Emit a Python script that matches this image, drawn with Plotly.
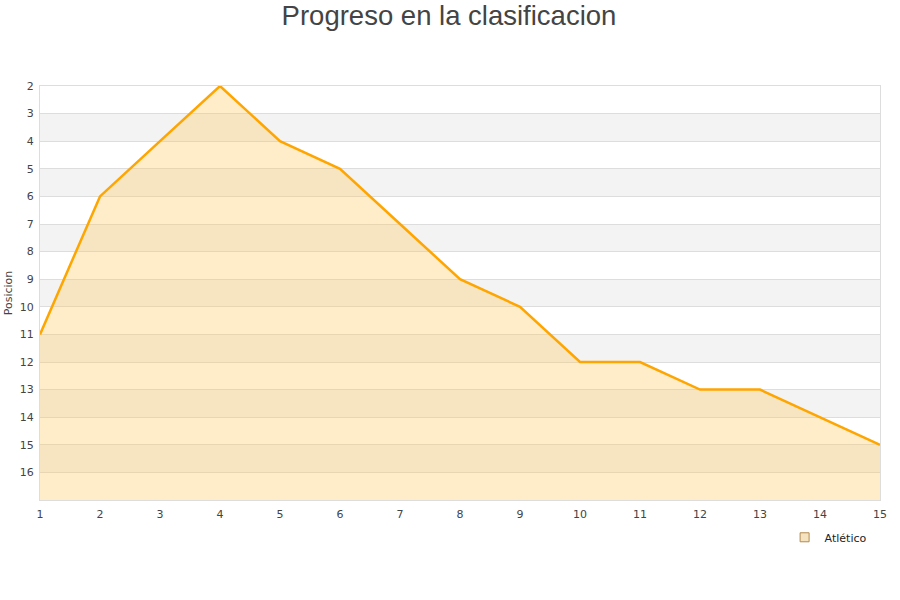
import plotly.graph_objects as go

jornadas = list(range(1, 16))
posicion = [11, 6, 4, 2, 4, 5, 7, 9, 10, 12, 12, 13, 13, 14, 15]
y_ticks = list(range(2, 17))
base = 17

fig = go.Figure()
fig.add_trace(go.Scatter(x=jornadas, y=[base] * len(jornadas), mode="lines",
                         line=dict(width=0), showlegend=False, hoverinfo="skip"))
fig.add_trace(go.Scatter(x=jornadas, y=posicion, mode="lines", name="Atlético",
                         fill="tonexty", fillcolor="rgba(255,200,90,0.32)",
                         line=dict(color="#FFA500", width=2.5), showlegend=False))
# legend marker proxy
fig.add_trace(go.Scatter(x=[None], y=[None], mode="markers", name="Atlético",
                         marker=dict(symbol="square", size=9, color="#F5E3C0",
                                     line=dict(color="#B08A50", width=1)),
                         showlegend=True))

shapes = []
for k in range(3, 17, 2):
    shapes.append(dict(type="rect", xref="paper", yref="y", x0=0, x1=1, y0=k, y1=k + 1,
                       fillcolor="#F3F3F3", line=dict(width=0), layer="below"))
fig.update_layout(
    width=900, height=600,
    margin=dict(l=40, r=20, t=86, b=100),
    paper_bgcolor="white", plot_bgcolor="white",
    title=dict(text="Progreso en la clasificacion", x=449 / 900, xanchor="center",
               xref="container", yref="container", y=1 - 15 / 600, yanchor="middle",
               font=dict(family="Liberation Sans, Arial", size=27.5, color="#444")),
    shapes=shapes,
    font=dict(family="DejaVu Sans", size=11, color="#444"),
    xaxis=dict(range=[1, 15], tickvals=jornadas, showgrid=False, zeroline=False,
               showline=True, linecolor="#DDD", mirror=True, ticks="", ticklen=0,
               automargin=False, ticklabelstandoff=4),
    yaxis=dict(range=[base, 2], tickvals=y_ticks, showgrid=True, gridcolor="#DDD",
               zeroline=False, showline=True, linecolor="#DDD", mirror=True,
               automargin=False, ticklabelstandoff=3,
               title=dict(text="Posicion", font=dict(size=11), standoff=4)),
    legend=dict(x=0.99, xanchor="right", y=-0.055, yanchor="top", orientation="h",
                font=dict(size=11, color="#222"), bgcolor="rgba(0,0,0,0)"),
)
fig.write_html("out.html", config={"displayModeBar": False},
               post_script="document.body.style.margin='0';")
